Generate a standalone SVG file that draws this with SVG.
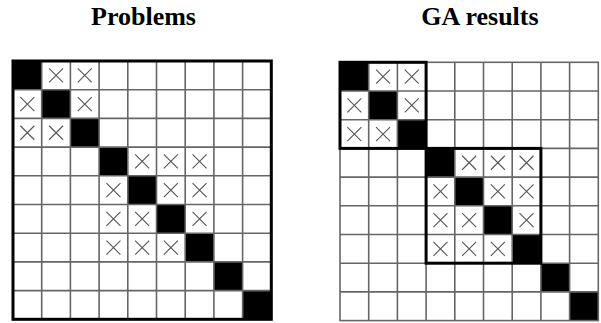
<svg xmlns="http://www.w3.org/2000/svg" width="601" height="323" viewBox="0 0 601 323">
<style>
.title{font-family:"Liberation Serif","Times New Roman",serif;font-weight:bold;font-size:26px;text-anchor:middle;fill:#000}
.cellbg{fill:#fff}
.blk{fill:#000}
.gl{stroke:#666;stroke-width:1.6;fill:none}
.xm{stroke:#555;stroke-width:1.1;fill:none}
.border{stroke:#000;stroke-width:3;fill:none}
</style>
<defs>
<g id="x"><path class="xm" d="M-7,-7L7,7M-7,7L7,-7"/></g>
<g id="grid">
<rect class="cellbg" x="0" y="0" width="258.3" height="258.3"/>
<rect class="blk" x="0" y="0" width="28.7" height="28.7"/>
<rect class="blk" x="28.7" y="28.7" width="28.7" height="28.7"/>
<rect class="blk" x="57.4" y="57.4" width="28.7" height="28.7"/>
<rect class="blk" x="86.1" y="86.1" width="28.7" height="28.7"/>
<rect class="blk" x="114.8" y="114.8" width="28.7" height="28.7"/>
<rect class="blk" x="143.5" y="143.5" width="28.7" height="28.7"/>
<rect class="blk" x="172.2" y="172.2" width="28.7" height="28.7"/>
<rect class="blk" x="200.9" y="200.9" width="28.7" height="28.7"/>
<rect class="blk" x="229.6" y="229.6" width="28.7" height="28.7"/>
<path class="gl" d="M28.7,0V258.3M57.4,0V258.3M86.1,0V258.3M114.8,0V258.3M143.5,0V258.3M172.2,0V258.3M200.9,0V258.3M229.6,0V258.3M0,28.7H258.3M0,57.4H258.3M0,86.1H258.3M0,114.8H258.3M0,143.5H258.3M0,172.2H258.3M0,200.9H258.3M0,229.6H258.3"/>
<rect class="gl" x="0" y="0" width="258.3" height="258.3"/>
<use href="#x" x="43.05" y="14.35"/>
<use href="#x" x="71.75" y="14.35"/>
<use href="#x" x="14.35" y="43.05"/>
<use href="#x" x="71.75" y="43.05"/>
<use href="#x" x="14.35" y="71.75"/>
<use href="#x" x="43.05" y="71.75"/>
<use href="#x" x="129.15" y="100.45"/>
<use href="#x" x="157.85" y="100.45"/>
<use href="#x" x="186.55" y="100.45"/>
<use href="#x" x="100.45" y="129.15"/>
<use href="#x" x="157.85" y="129.15"/>
<use href="#x" x="186.55" y="129.15"/>
<use href="#x" x="100.45" y="157.85"/>
<use href="#x" x="129.15" y="157.85"/>
<use href="#x" x="186.55" y="157.85"/>
<use href="#x" x="100.45" y="186.55"/>
<use href="#x" x="129.15" y="186.55"/>
<use href="#x" x="157.85" y="186.55"/>
</g>
</defs>
<text class="title" x="143.5" y="25">Problems</text>
<text class="title" x="480" y="25">GA results</text>
<g id="problems">
<use href="#grid" x="13" y="61"/>
<rect class="border" x="13" y="61" width="258.3" height="258.3"/>
</g>
<g id="ga-results">
<use href="#grid" x="340" y="62.3"/>
<rect class="border" x="340" y="62.3" width="86.1" height="86.1"/>
<rect class="border" x="426.1" y="148.4" width="114.8" height="114.8"/>
</g>
</svg>
